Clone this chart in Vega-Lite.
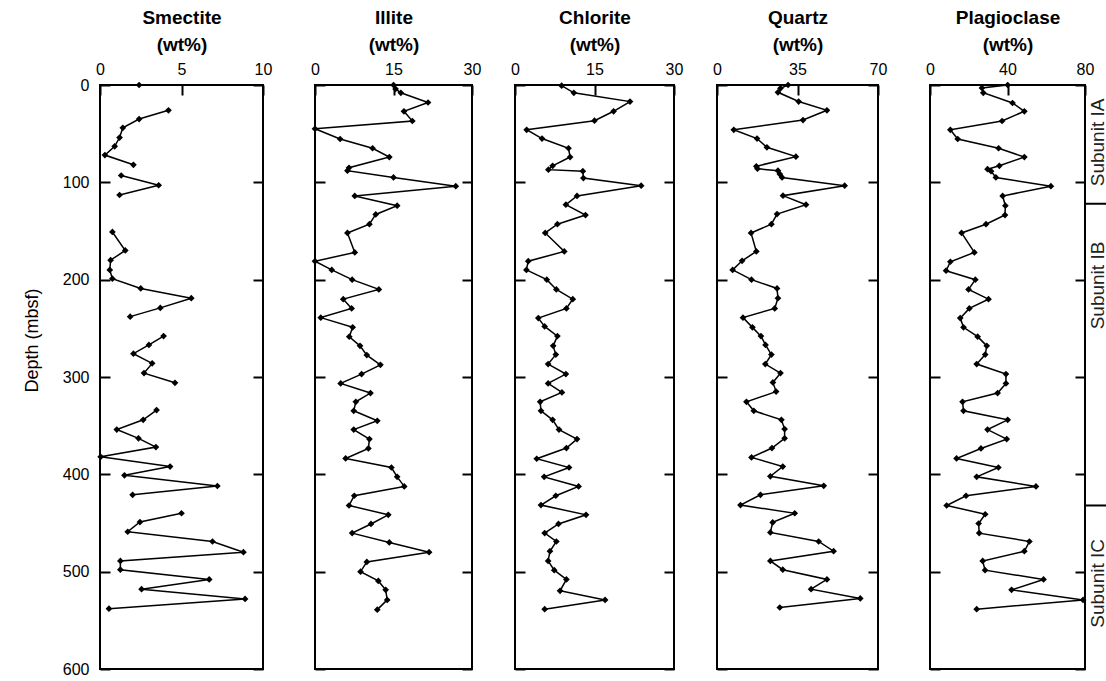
{
"$schema": "https://vega.github.io/schema/vega-lite/v6.json",
"padding": {"left": 22, "top": 7, "right": 0, "bottom": 0},
"datasets": {
"minerals": [
{"m":"Smectite","d":0,"v":2.4,"s":0},
{"m":"Smectite","d":26,"v":4.2,"s":1},{"m":"Smectite","d":35,"v":2.4,"s":1},{"m":"Smectite","d":44,"v":1.4,"s":1},{"m":"Smectite","d":54,"v":1.2,"s":1},{"m":"Smectite","d":63,"v":0.9,"s":1},{"m":"Smectite","d":72,"v":0.3,"s":1},{"m":"Smectite","d":82,"v":2.05,"s":1},
{"m":"Smectite","d":93,"v":1.3,"s":2},{"m":"Smectite","d":103,"v":3.6,"s":2},{"m":"Smectite","d":113,"v":1.2,"s":2},
{"m":"Smectite","d":151,"v":0.76,"s":3},{"m":"Smectite","d":170,"v":1.55,"s":3},{"m":"Smectite","d":180,"v":0.65,"s":3},{"m":"Smectite","d":190,"v":0.6,"s":3},{"m":"Smectite","d":199,"v":0.76,"s":3},{"m":"Smectite","d":209,"v":2.5,"s":3},{"m":"Smectite","d":219,"v":5.6,"s":3},{"m":"Smectite","d":229,"v":3.7,"s":3},{"m":"Smectite","d":238,"v":1.85,"s":3},
{"m":"Smectite","d":258,"v":3.9,"s":4},{"m":"Smectite","d":267,"v":3.0,"s":4},{"m":"Smectite","d":276,"v":2.05,"s":4},{"m":"Smectite","d":286,"v":3.2,"s":4},{"m":"Smectite","d":296,"v":2.7,"s":4},{"m":"Smectite","d":306,"v":4.6,"s":4},
{"m":"Smectite","d":334,"v":3.47,"s":5},{"m":"Smectite","d":344,"v":2.65,"s":5},{"m":"Smectite","d":354,"v":1.03,"s":5},{"m":"Smectite","d":363,"v":2.36,"s":5},{"m":"Smectite","d":372,"v":3.43,"s":5},{"m":"Smectite","d":382,"v":0.04,"s":5},{"m":"Smectite","d":392,"v":4.3,"s":5},{"m":"Smectite","d":401,"v":1.5,"s":5},{"m":"Smectite","d":412,"v":7.2,"s":5},{"m":"Smectite","d":421,"v":2.0,"s":5},
{"m":"Smectite","d":440,"v":5.0,"s":6},{"m":"Smectite","d":449,"v":2.45,"s":6},{"m":"Smectite","d":459,"v":1.7,"s":6},{"m":"Smectite","d":469,"v":6.9,"s":6},{"m":"Smectite","d":480,"v":8.8,"s":6},{"m":"Smectite","d":489,"v":1.25,"s":6},{"m":"Smectite","d":498,"v":1.25,"s":6},{"m":"Smectite","d":508,"v":6.7,"s":6},{"m":"Smectite","d":518,"v":2.55,"s":6},{"m":"Smectite","d":528,"v":8.9,"s":6},{"m":"Smectite","d":538,"v":0.55,"s":6},

{"m":"Illite","d":0,"v":15.0,"s":1},{"m":"Illite","d":4,"v":15.4,"s":1},{"m":"Illite","d":8,"v":16.4,"s":1},{"m":"Illite","d":18,"v":21.6,"s":1},{"m":"Illite","d":27,"v":17.0,"s":1},{"m":"Illite","d":37,"v":18.6,"s":1},{"m":"Illite","d":45,"v":0,"s":1},{"m":"Illite","d":55.5,"v":4.8,"s":1},{"m":"Illite","d":65,"v":11.0,"s":1},{"m":"Illite","d":74,"v":14.2,"s":1},{"m":"Illite","d":85,"v":6.5,"s":1},{"m":"Illite","d":88,"v":6.2,"s":1},{"m":"Illite","d":95,"v":15.0,"s":1},{"m":"Illite","d":104,"v":26.9,"s":1},{"m":"Illite","d":114,"v":7.6,"s":1},{"m":"Illite","d":124,"v":15.7,"s":1},{"m":"Illite","d":133,"v":11.6,"s":1},{"m":"Illite","d":143,"v":10.4,"s":1},{"m":"Illite","d":152,"v":6.2,"s":1},{"m":"Illite","d":172,"v":7.6,"s":1},{"m":"Illite","d":181,"v":0,"s":1},{"m":"Illite","d":190,"v":3.2,"s":1},{"m":"Illite","d":200,"v":7.1,"s":1},{"m":"Illite","d":210,"v":12.2,"s":1},{"m":"Illite","d":220,"v":5.4,"s":1},{"m":"Illite","d":229.5,"v":7.0,"s":1},{"m":"Illite","d":239,"v":1.1,"s":1},{"m":"Illite","d":249,"v":7.2,"s":1},{"m":"Illite","d":258.6,"v":6.55,"s":1},{"m":"Illite","d":268,"v":8.6,"s":1},{"m":"Illite","d":277.5,"v":9.9,"s":1},{"m":"Illite","d":287.5,"v":12.5,"s":1},{"m":"Illite","d":297,"v":8.9,"s":1},{"m":"Illite","d":306.6,"v":4.9,"s":1},{"m":"Illite","d":316.5,"v":10.6,"s":1},{"m":"Illite","d":325.5,"v":7.8,"s":1},{"m":"Illite","d":334.7,"v":7.4,"s":1},{"m":"Illite","d":345,"v":11.9,"s":1},{"m":"Illite","d":354,"v":7.4,"s":1},{"m":"Illite","d":363.8,"v":10.4,"s":1},{"m":"Illite","d":373.4,"v":10.2,"s":1},{"m":"Illite","d":383.7,"v":5.85,"s":1},{"m":"Illite","d":393,"v":14.6,"s":1},{"m":"Illite","d":402.6,"v":15.7,"s":1},{"m":"Illite","d":412.4,"v":17.05,"s":1},{"m":"Illite","d":422,"v":7.5,"s":1},{"m":"Illite","d":432,"v":6.5,"s":1},{"m":"Illite","d":441.6,"v":14.0,"s":1},{"m":"Illite","d":451,"v":10.7,"s":1},{"m":"Illite","d":460.4,"v":7.1,"s":1},{"m":"Illite","d":470,"v":14.2,"s":1},{"m":"Illite","d":480,"v":21.8,"s":1},{"m":"Illite","d":490,"v":9.9,"s":1},{"m":"Illite","d":500,"v":8.7,"s":1},{"m":"Illite","d":509.5,"v":12.1,"s":1},{"m":"Illite","d":518.7,"v":13.5,"s":1},{"m":"Illite","d":529,"v":13.8,"s":1},{"m":"Illite","d":539,"v":11.9,"s":1},

{"m":"Chlorite","d":0.7,"v":8.8,"s":1},{"m":"Chlorite","d":8,"v":11.1,"s":1},{"m":"Chlorite","d":17,"v":21.7,"s":1},{"m":"Chlorite","d":27,"v":18.6,"s":1},{"m":"Chlorite","d":36.7,"v":15.0,"s":1},{"m":"Chlorite","d":46,"v":2.2,"s":1},{"m":"Chlorite","d":55,"v":5.1,"s":1},{"m":"Chlorite","d":65,"v":10.1,"s":1},{"m":"Chlorite","d":74,"v":10.4,"s":1},{"m":"Chlorite","d":83,"v":7.1,"s":1},{"m":"Chlorite","d":87,"v":6.3,"s":1},{"m":"Chlorite","d":88.5,"v":12.8,"s":1},{"m":"Chlorite","d":95.6,"v":12.9,"s":1},{"m":"Chlorite","d":103.4,"v":23.8,"s":1},{"m":"Chlorite","d":114,"v":11.7,"s":1},{"m":"Chlorite","d":123,"v":9.6,"s":1},{"m":"Chlorite","d":133.6,"v":13.3,"s":1},{"m":"Chlorite","d":143,"v":8.0,"s":1},{"m":"Chlorite","d":152,"v":5.7,"s":1},{"m":"Chlorite","d":171,"v":9.3,"s":1},{"m":"Chlorite","d":181,"v":2.5,"s":1},{"m":"Chlorite","d":190,"v":2.15,"s":1},{"m":"Chlorite","d":200,"v":6.0,"s":1},{"m":"Chlorite","d":210,"v":7.8,"s":1},{"m":"Chlorite","d":220,"v":10.9,"s":1},{"m":"Chlorite","d":229.5,"v":9.7,"s":1},{"m":"Chlorite","d":239.5,"v":4.4,"s":1},{"m":"Chlorite","d":248,"v":5.6,"s":1},{"m":"Chlorite","d":258,"v":8.0,"s":1},{"m":"Chlorite","d":268,"v":7.2,"s":1},{"m":"Chlorite","d":277,"v":7.7,"s":1},{"m":"Chlorite","d":286.7,"v":6.25,"s":1},{"m":"Chlorite","d":297,"v":9.6,"s":1},{"m":"Chlorite","d":306.6,"v":6.25,"s":1},{"m":"Chlorite","d":315.8,"v":8.85,"s":1},{"m":"Chlorite","d":325.5,"v":4.75,"s":1},{"m":"Chlorite","d":334.7,"v":4.9,"s":1},{"m":"Chlorite","d":344,"v":7.1,"s":1},{"m":"Chlorite","d":354,"v":8.3,"s":1},{"m":"Chlorite","d":363.8,"v":11.7,"s":1},{"m":"Chlorite","d":373,"v":9.7,"s":1},{"m":"Chlorite","d":384,"v":4.1,"s":1},{"m":"Chlorite","d":393,"v":10.2,"s":1},{"m":"Chlorite","d":402.6,"v":5.5,"s":1},{"m":"Chlorite","d":412.4,"v":12.0,"s":1},{"m":"Chlorite","d":422,"v":7.7,"s":1},{"m":"Chlorite","d":431.6,"v":4.9,"s":1},{"m":"Chlorite","d":441.6,"v":13.4,"s":1},{"m":"Chlorite","d":451,"v":8.2,"s":1},{"m":"Chlorite","d":460.4,"v":5.6,"s":1},{"m":"Chlorite","d":469,"v":7.8,"s":1},{"m":"Chlorite","d":479,"v":6.6,"s":1},{"m":"Chlorite","d":489,"v":6.25,"s":1},{"m":"Chlorite","d":498.5,"v":7.4,"s":1},{"m":"Chlorite","d":508,"v":9.7,"s":1},{"m":"Chlorite","d":519.7,"v":8.5,"s":1},{"m":"Chlorite","d":529,"v":17.0,"s":1},{"m":"Chlorite","d":538.5,"v":5.6,"s":1},

{"m":"Quartz","d":0,"v":30.9,"s":1},{"m":"Quartz","d":3.4,"v":27.6,"s":1},{"m":"Quartz","d":7.5,"v":26.5,"s":1},{"m":"Quartz","d":17,"v":35.5,"s":1},{"m":"Quartz","d":26,"v":47.8,"s":1},{"m":"Quartz","d":36,"v":37.4,"s":1},{"m":"Quartz","d":46,"v":7.3,"s":1},{"m":"Quartz","d":55,"v":17.4,"s":1},{"m":"Quartz","d":64,"v":21.7,"s":1},{"m":"Quartz","d":73.6,"v":34.3,"s":1},{"m":"Quartz","d":83.5,"v":17.1,"s":1},{"m":"Quartz","d":86,"v":17.6,"s":1},{"m":"Quartz","d":88,"v":26.5,"s":1},{"m":"Quartz","d":91.5,"v":27.3,"s":1},{"m":"Quartz","d":95,"v":28.3,"s":1},{"m":"Quartz","d":103.4,"v":55.5,"s":1},{"m":"Quartz","d":113.7,"v":28.7,"s":1},{"m":"Quartz","d":123,"v":38.7,"s":1},{"m":"Quartz","d":132.6,"v":26.1,"s":1},{"m":"Quartz","d":143,"v":23.65,"s":1},{"m":"Quartz","d":152,"v":14.8,"s":1},{"m":"Quartz","d":171,"v":17.1,"s":1},{"m":"Quartz","d":180.6,"v":10.9,"s":1},{"m":"Quartz","d":190,"v":6.8,"s":1},{"m":"Quartz","d":200,"v":15.0,"s":1},{"m":"Quartz","d":209,"v":26.1,"s":1},{"m":"Quartz","d":219,"v":26.5,"s":1},{"m":"Quartz","d":229.5,"v":25.1,"s":1},{"m":"Quartz","d":239,"v":11.3,"s":1},{"m":"Quartz","d":249,"v":15.4,"s":1},{"m":"Quartz","d":258,"v":19.1,"s":1},{"m":"Quartz","d":267,"v":21.1,"s":1},{"m":"Quartz","d":277,"v":23.65,"s":1},{"m":"Quartz","d":286.7,"v":21.0,"s":1},{"m":"Quartz","d":296,"v":27.6,"s":1},{"m":"Quartz","d":305.6,"v":24.3,"s":1},{"m":"Quartz","d":315,"v":25.7,"s":1},{"m":"Quartz","d":325.5,"v":12.8,"s":1},{"m":"Quartz","d":334.7,"v":16.0,"s":1},{"m":"Quartz","d":344,"v":28.0,"s":1},{"m":"Quartz","d":353.5,"v":29.4,"s":1},{"m":"Quartz","d":363,"v":29.4,"s":1},{"m":"Quartz","d":373,"v":23.9,"s":1},{"m":"Quartz","d":382.6,"v":15.0,"s":1},{"m":"Quartz","d":392,"v":28.6,"s":1},{"m":"Quartz","d":402,"v":23.2,"s":1},{"m":"Quartz","d":411.8,"v":46.4,"s":1},{"m":"Quartz","d":421,"v":18.9,"s":1},{"m":"Quartz","d":431.6,"v":10.2,"s":1},{"m":"Quartz","d":440,"v":33.8,"s":1},{"m":"Quartz","d":449.4,"v":24.2,"s":1},{"m":"Quartz","d":459.7,"v":23.2,"s":1},{"m":"Quartz","d":469,"v":44.2,"s":1},{"m":"Quartz","d":479,"v":50.7,"s":1},{"m":"Quartz","d":489,"v":23.2,"s":1},{"m":"Quartz","d":498,"v":28.6,"s":1},{"m":"Quartz","d":508,"v":47.8,"s":1},{"m":"Quartz","d":518,"v":40.9,"s":1},{"m":"Quartz","d":527.5,"v":62.3,"s":1},{"m":"Quartz","d":536.8,"v":27.3,"s":1},

{"m":"Plagioclase","d":0,"v":40.1,"s":1},{"m":"Plagioclase","d":3,"v":26.8,"s":1},{"m":"Plagioclase","d":8,"v":27.5,"s":1},{"m":"Plagioclase","d":18.5,"v":42.6,"s":1},{"m":"Plagioclase","d":27,"v":48.7,"s":1},{"m":"Plagioclase","d":37,"v":37.2,"s":1},{"m":"Plagioclase","d":46,"v":10.5,"s":1},{"m":"Plagioclase","d":55.5,"v":14.3,"s":1},{"m":"Plagioclase","d":65,"v":35.4,"s":1},{"m":"Plagioclase","d":74,"v":48.7,"s":1},{"m":"Plagioclase","d":83,"v":35.8,"s":1},{"m":"Plagioclase","d":86.5,"v":29.7,"s":1},{"m":"Plagioclase","d":88.5,"v":31.5,"s":1},{"m":"Plagioclase","d":95,"v":34.0,"s":1},{"m":"Plagioclase","d":104,"v":62.4,"s":1},{"m":"Plagioclase","d":114,"v":37.5,"s":1},{"m":"Plagioclase","d":124,"v":38.9,"s":1},{"m":"Plagioclase","d":133.6,"v":38.7,"s":1},{"m":"Plagioclase","d":143,"v":28.9,"s":1},{"m":"Plagioclase","d":152,"v":16.3,"s":1},{"m":"Plagioclase","d":172,"v":22.9,"s":1},{"m":"Plagioclase","d":181.6,"v":10.5,"s":1},{"m":"Plagioclase","d":190.8,"v":8.3,"s":1},{"m":"Plagioclase","d":200,"v":23.4,"s":1},{"m":"Plagioclase","d":210,"v":19.9,"s":1},{"m":"Plagioclase","d":220,"v":30.2,"s":1},{"m":"Plagioclase","d":229.5,"v":20.3,"s":1},{"m":"Plagioclase","d":239.5,"v":15.6,"s":1},{"m":"Plagioclase","d":249,"v":17.3,"s":1},{"m":"Plagioclase","d":258.6,"v":24.6,"s":1},{"m":"Plagioclase","d":268,"v":29.3,"s":1},{"m":"Plagioclase","d":277,"v":28.5,"s":1},{"m":"Plagioclase","d":286.7,"v":24.1,"s":1},{"m":"Plagioclase","d":297,"v":39.2,"s":1},{"m":"Plagioclase","d":306.6,"v":39.2,"s":1},{"m":"Plagioclase","d":316.5,"v":34.9,"s":1},{"m":"Plagioclase","d":325.5,"v":16.8,"s":1},{"m":"Plagioclase","d":334.7,"v":17.3,"s":1},{"m":"Plagioclase","d":344,"v":40.1,"s":1},{"m":"Plagioclase","d":354,"v":29.7,"s":1},{"m":"Plagioclase","d":363.8,"v":39.6,"s":1},{"m":"Plagioclase","d":373.4,"v":26.3,"s":1},{"m":"Plagioclase","d":383.7,"v":13.7,"s":1},{"m":"Plagioclase","d":393,"v":35.3,"s":1},{"m":"Plagioclase","d":402.6,"v":24.1,"s":1},{"m":"Plagioclase","d":412.4,"v":54.7,"s":1},{"m":"Plagioclase","d":422,"v":18.6,"s":1},{"m":"Plagioclase","d":432,"v":8.6,"s":1},{"m":"Plagioclase","d":441,"v":28.5,"s":1},{"m":"Plagioclase","d":450.5,"v":25.1,"s":1},{"m":"Plagioclase","d":460.4,"v":25.4,"s":1},{"m":"Plagioclase","d":469,"v":51.3,"s":1},{"m":"Plagioclase","d":479,"v":48.7,"s":1},{"m":"Plagioclase","d":489,"v":27.2,"s":1},{"m":"Plagioclase","d":498.5,"v":28.4,"s":1},{"m":"Plagioclase","d":508,"v":58.6,"s":1},{"m":"Plagioclase","d":518.7,"v":42.1,"s":1},{"m":"Plagioclase","d":529,"v":79.0,"s":1},{"m":"Plagioclase","d":538.5,"v":24.1,"s":1}
],
"bounds": [{"d":122},{"d":432}],
"subunits": [{"label":"Subunit IA","d":59},{"label":"Subunit IB","d":206},{"label":"Subunit IC","d":512}]
},
"data": {"name": "minerals"},
"spacing": 36,
"hconcat": [
{
 "width": 163, "height": 584,
 "transform": [{"filter": "datum.m === 'Smectite'"}],
 "encoding": {"x": {"field": "v", "type": "quantitative", "scale": {"domain": [0, 10], "nice": false}, "axis": {"orient": "top", "values": [0, 5, 10], "title": ["Smectite", "(wt%)"]}}},
 "layer": [
  {"mark": {"type": "line", "color": "black", "strokeWidth": 1.5},
   "encoding": {"y": {"field": "d", "type": "quantitative", "scale": {"domain": [0, 600], "reverse": true, "nice": false}, "axis": {"orient": "left", "values": [0, 100, 200, 300, 400, 500, 600], "labels": true, "title": "Depth (mbsf)", "titleFontSize": 18, "titleFontWeight": "normal", "titleX": -68, "titleY": 255, "titleBaseline": "middle"}}, "detail": {"field": "s"}, "order": {"field": "d"}}},
  {"mark": {"type": "point", "shape": "diamond", "filled": true, "color": "black", "size": 45, "opacity": 1},
   "encoding": {"y": {"field": "d", "type": "quantitative", "scale": {"domain": [0, 600], "reverse": true, "nice": false}, "axis": {"orient": "right", "values": [0, 100, 200, 300, 400, 500, 600], "labels": false, "title": null}}}}
 ],
 "resolve": {"axis": {"y": "independent"}}
},
{
 "spacing": 27,
 "hconcat": [
 {
  "width": 157, "height": 584,
  "transform": [{"filter": "datum.m === 'Illite'"}],
  "encoding": {"x": {"field": "v", "type": "quantitative", "scale": {"domain": [0, 30], "nice": false}, "axis": {"orient": "top", "values": [0, 15, 30], "title": ["Illite", "(wt%)"]}}},
  "layer": [
   {"mark": {"type": "line", "color": "black", "strokeWidth": 1.5},
    "encoding": {"y": {"field": "d", "type": "quantitative", "scale": {"domain": [0, 600], "reverse": true, "nice": false}, "axis": {"orient": "left", "values": [0, 100, 200, 300, 400, 500, 600], "labels": false, "title": null}}, "detail": {"field": "s"}, "order": {"field": "d"}}},
   {"mark": {"type": "point", "shape": "diamond", "filled": true, "color": "black", "size": 45, "opacity": 1},
    "encoding": {"y": {"field": "d", "type": "quantitative", "scale": {"domain": [0, 600], "reverse": true, "nice": false}, "axis": {"orient": "right", "values": [0, 100, 200, 300, 400, 500, 600], "labels": false, "title": null}}}}
  ],
  "resolve": {"axis": {"y": "independent"}}
 },
 {
  "width": 159, "height": 584,
  "transform": [{"filter": "datum.m === 'Chlorite'"}],
  "encoding": {"x": {"field": "v", "type": "quantitative", "scale": {"domain": [0, 30], "nice": false}, "axis": {"orient": "top", "values": [0, 15, 30], "title": ["Chlorite", "(wt%)"]}}},
  "layer": [
   {"mark": {"type": "line", "color": "black", "strokeWidth": 1.5},
    "encoding": {"y": {"field": "d", "type": "quantitative", "scale": {"domain": [0, 600], "reverse": true, "nice": false}, "axis": {"orient": "left", "values": [0, 100, 200, 300, 400, 500, 600], "labels": false, "title": null}}, "detail": {"field": "s"}, "order": {"field": "d"}}},
   {"mark": {"type": "point", "shape": "diamond", "filled": true, "color": "black", "size": 45, "opacity": 1},
    "encoding": {"y": {"field": "d", "type": "quantitative", "scale": {"domain": [0, 600], "reverse": true, "nice": false}, "axis": {"orient": "right", "values": [0, 100, 200, 300, 400, 500, 600], "labels": false, "title": null}}}}
  ],
  "resolve": {"axis": {"y": "independent"}}
 },
 {
  "width": 161, "height": 584,
  "transform": [{"filter": "datum.m === 'Quartz'"}],
  "encoding": {"x": {"field": "v", "type": "quantitative", "scale": {"domain": [0, 70], "nice": false}, "axis": {"orient": "top", "values": [0, 35, 70], "title": ["Quartz", "(wt%)"]}}},
  "layer": [
   {"mark": {"type": "line", "color": "black", "strokeWidth": 1.5},
    "encoding": {"y": {"field": "d", "type": "quantitative", "scale": {"domain": [0, 600], "reverse": true, "nice": false}, "axis": {"orient": "left", "values": [0, 100, 200, 300, 400, 500, 600], "labels": false, "title": null}}, "detail": {"field": "s"}, "order": {"field": "d"}}},
   {"mark": {"type": "point", "shape": "diamond", "filled": true, "color": "black", "size": 45, "opacity": 1},
    "encoding": {"y": {"field": "d", "type": "quantitative", "scale": {"domain": [0, 600], "reverse": true, "nice": false}, "axis": {"orient": "right", "values": [0, 100, 200, 300, 400, 500, 600], "labels": false, "title": null}}}}
  ],
  "resolve": {"axis": {"y": "independent"}}
 }
 ]
},
{
 "spacing": 0,
 "bounds": "flush",
 "hconcat": [
 {
  "width": 155, "height": 584,
  "transform": [{"filter": "datum.m === 'Plagioclase'"}],
  "encoding": {"x": {"field": "v", "type": "quantitative", "scale": {"domain": [0, 80], "nice": false}, "axis": {"orient": "top", "values": [0, 40, 80], "title": ["Plagioclase", "(wt%)"]}}},
  "layer": [
   {"mark": {"type": "line", "color": "black", "strokeWidth": 1.5},
    "encoding": {"y": {"field": "d", "type": "quantitative", "scale": {"domain": [0, 600], "reverse": true, "nice": false}, "axis": {"orient": "left", "values": [0, 100, 200, 300, 400, 500, 600], "labels": false, "title": null}}, "detail": {"field": "s"}, "order": {"field": "d"}}},
   {"mark": {"type": "point", "shape": "diamond", "filled": true, "color": "black", "size": 45, "opacity": 1},
    "encoding": {"y": {"field": "d", "type": "quantitative", "scale": {"domain": [0, 600], "reverse": true, "nice": false}, "axis": {"orient": "right", "values": [0, 100, 200, 300, 400, 500, 600], "labels": false, "title": null}}}}
  ],
  "resolve": {"axis": {"y": "independent"}}
 },
 {
  "width": 22, "height": 584,
  "view": {"stroke": null},
  "layer": [
   {"data": {"name": "bounds"}, "mark": {"type": "rule", "color": "black", "strokeWidth": 2},
    "encoding": {"y": {"field": "d", "type": "quantitative", "scale": {"domain": [0, 600], "reverse": true, "nice": false}, "axis": null}}},
   {"data": {"name": "subunits"}, "mark": {"type": "text", "angle": 270, "fontSize": 19, "font": "Liberation Sans", "color": "#222222", "dx": 0, "dy": 2},
    "encoding": {"y": {"field": "d", "type": "quantitative", "axis": null}, "text": {"field": "label"}}}
  ]
 }
 ]
}
],
"config": {
 "view": {"stroke": "black", "strokeWidth": 2},
 "axis": {"grid": false, "domain": false, "tickColor": "black", "tickWidth": 2, "tickSize": -10, "labelFont": "Liberation Sans", "labelFontSize": 16, "labelColor": "black", "titleFont": "Liberation Sans", "titleColor": "black", "labelFlush": false, "labelOverlap": false},
 "axisX": {"labelPadding": 18, "titleFontSize": 19, "titleFontWeight": "bold", "titleLineHeight": 27, "titlePadding": 7},
 "axisY": {"labelPadding": 21}
}
}
